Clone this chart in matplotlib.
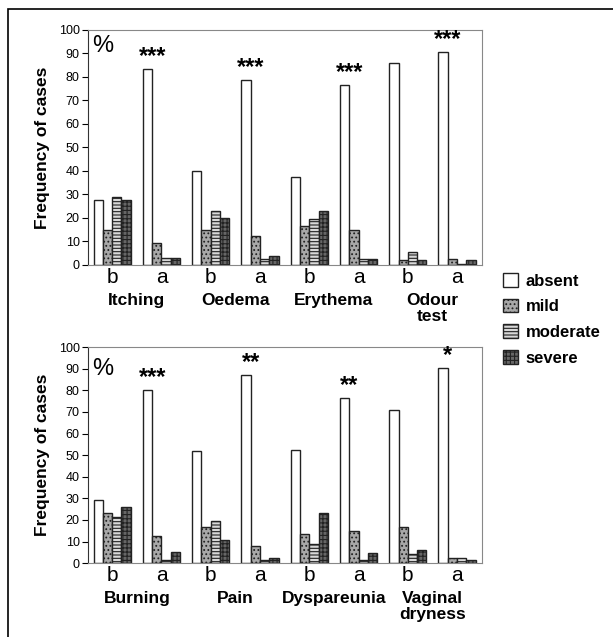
import matplotlib
matplotlib.use("Agg")
import matplotlib.pyplot as plt
from matplotlib.patches import Patch, Rectangle

plt.rcParams["font.family"] = ["Liberation Sans", "DejaVu Sans"]
plt.rcParams["hatch.linewidth"] = 0.8

levels = ["absent", "mild", "moderate", "severe"]
phases = ["b", "a"]

top_symptoms = ["Itching", "Oedema", "Erythema", "Odour\ntest"]
top_values = [
    [27.5, 15, 29, 27.5], [83.5, 9.5, 3, 3],
    [40, 15, 23, 20], [78.5, 12.5, 2.5, 4],
    [37.5, 16.5, 19.5, 23], [76.5, 15, 2.5, 2.5],
    [86, 2, 5.5, 2], [90.5, 2.5, 0.5, 2],
]
top_stars = ["***", "***", "***", "***"]

bottom_symptoms = ["Burning", "Pain", "Dyspareunia", "Vaginal\ndryness"]
bottom_values = [
    [29, 23, 21.5, 26], [80, 12.5, 1.5, 5],
    [52, 16.5, 19.5, 10.5], [87, 8, 1.5, 2.5],
    [52.5, 13.5, 9, 23], [76.5, 15, 1.5, 4.5],
    [71, 16.5, 4, 6], [90.5, 2.5, 2.5, 1.5],
]
bottom_stars = ["***", "**", "**", "*"]

styles = {
    "absent": dict(facecolor="white", hatch=None),
    "mild": dict(facecolor="#a8a8a8", hatch="...."),
    "moderate": dict(facecolor="#d8d8d8", hatch="-----"),
    "severe": dict(facecolor="#666666", hatch="++++"),
}

step = 5.3
start = 0.6


def draw_panel(ax, symptoms, values, stars, pct_y):
    for g, vals in enumerate(values):
        x0 = start + g * step
        for j, lev in enumerate(levels):
            st = styles[lev]
            ax.bar(x0 + j + 0.5, vals[j], width=1.0, facecolor=st["facecolor"],
                   hatch=st["hatch"], edgecolor="#222222", linewidth=1.0)
        if g % 2 == 1:
            ax.text(x0 + 1.0, vals[0] + 0.5, stars[g // 2], ha="center",
                    va="bottom", fontsize=17, fontweight="bold")
    centers = [start + g * step + 2 for g in range(len(values))]
    ax.set_xticks(centers)
    ax.set_xticklabels(phases * len(symptoms), fontsize=15)
    ax.tick_params(axis="x", length=0, pad=2)
    for k, name in enumerate(symptoms):
        c = (centers[2 * k] + centers[2 * k + 1]) / 2
        ax.annotate(name, xy=(c, 0), xycoords=("data", "axes fraction"),
                    xytext=(0, -20), textcoords="offset points", ha="center",
                    va="top", fontsize=12.5, fontweight="bold", linespacing=1.1)
    ax.set_xlim(0, start + 7 * step + 4 + 0.7)
    ax.set_ylim(0, 100)
    ax.set_yticks(range(0, 101, 10))
    ax.tick_params(axis="y", labelsize=9, length=4, direction="out", pad=2)
    ax.set_ylabel("Frequency of cases", fontsize=12.5, fontweight="bold", labelpad=6)
    for s in ["top", "right", "bottom"]:
        ax.spines[s].set_color("#888888")
    ax.spines["left"].set_color("#333333")
    ax.text(0.01, pct_y, "%", transform=ax.transAxes, ha="left", va="top", fontsize=17)


fig = plt.figure(figsize=(6.13, 6.37), dpi=100)
ax1 = fig.add_axes([0.1436, 0.584, 0.643, 0.369])
ax2 = fig.add_axes([0.1436, 0.116, 0.643, 0.339])
draw_panel(ax1, top_symptoms, top_values, top_stars, 0.98)
draw_panel(ax2, bottom_symptoms, bottom_values, bottom_stars, 0.95)

handles = [Patch(facecolor=styles[l]["facecolor"], hatch=styles[l]["hatch"],
                 edgecolor="#222222", label=l) for l in levels]
fig.legend(handles=handles, loc="upper left", bbox_to_anchor=(0.796, 0.595),
           frameon=False, prop={"weight": "bold", "size": 12},
           handlelength=0.9, handleheight=0.9, handletextpad=0.45,
           labelspacing=0.6)

fig.patches.append(Rectangle((8 / 613, -0.1), 1.2, 1 - 9 / 637 + 0.1,
                             transform=fig.transFigure, fill=False,
                             edgecolor="black", linewidth=1.2))

fig.savefig("out.png", dpi=100)
